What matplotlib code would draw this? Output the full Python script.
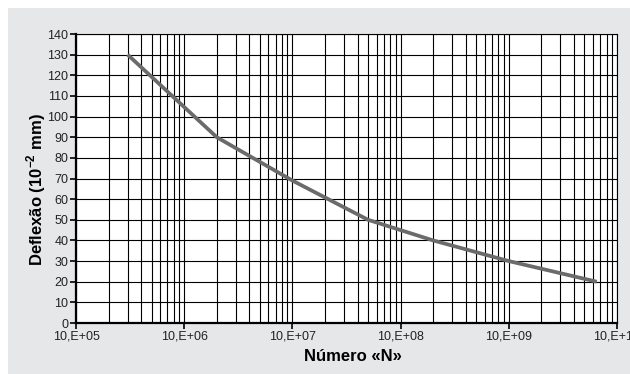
import numpy as np
import matplotlib.pyplot as plt
from matplotlib.patches import Rectangle
from matplotlib.ticker import FixedLocator, LogLocator, NullFormatter

# deflection curve vs number of load repetitions
n_values = [3e5, 2e6, 1e7, 5e7, 2e8, 1e9, 6.5e9]
deflection = [130, 90, 69, 50, 40, 30, 20]

x_ticks = [1e5, 1e6, 1e7, 1e8, 1e9, 1e10]
x_tick_labels = ["10,E+05", "10,E+06", "10,E+07", "10,E+08", "10,E+09", "10,E+10"]
y_ticks = list(range(0, 141, 10))

plt.rcParams['font.family'] = ['Liberation Sans', 'DejaVu Sans']
plt.rcParams['mathtext.fontset'] = 'custom'
plt.rcParams['mathtext.bf'] = 'Liberation Sans:bold'

fig = plt.figure(figsize=(6.3, 3.74), dpi=100, facecolor='white')
# grey panel behind the chart
fig.patches.append(Rectangle((8 / 630, 0), 1 - 8 / 630, 1 - 8 / 374,
                             transform=fig.transFigure, facecolor='#e6e7e8',
                             edgecolor='none', zorder=-10))

ax = fig.add_axes([76 / 630, 51 / 374, 541 / 630, 289 / 374])
ax.set_facecolor('white')
ax.set_xscale('log')
ax.set_xlim(1e5, 1e10)
ax.set_ylim(0, 140)

ax.plot(n_values, deflection, color='#6b6b6e', lw=2.7, solid_capstyle='butt',
        zorder=3)

ax.xaxis.set_major_locator(FixedLocator(x_ticks))
ax.set_xticklabels(x_tick_labels)
ax.xaxis.set_minor_locator(LogLocator(base=10, subs=np.arange(2, 10)))
ax.xaxis.set_minor_formatter(NullFormatter())
ax.set_yticks(y_ticks)

ax.grid(which='major', axis='both', color='black', lw=0.8)
ax.grid(which='minor', axis='x', color='black', lw=0.8)

ax.tick_params(axis='both', which='major', direction='out', length=4,
               width=1.2, labelsize=9, colors='black', labelcolor='#222222',
               pad=1.5)
ax.tick_params(axis='x', which='minor', length=0)

for side in ['left', 'bottom']:
    ax.spines[side].set_linewidth(1.6)
for side in ['top', 'right']:
    ax.spines[side].set_linewidth(0.8)

ax.set_xlabel("Número «N»", fontsize=12, fontweight='bold')
ax.set_ylabel("Deflexão (10$^{\\mathbf{-2}}$ mm)", fontsize=12,
              fontweight='bold')
ax.xaxis.set_label_coords(0.511, -0.09)
ax.yaxis.set_label_coords(-0.052, 0.46)

fig.savefig('out.png', dpi=100, facecolor=fig.get_facecolor())
